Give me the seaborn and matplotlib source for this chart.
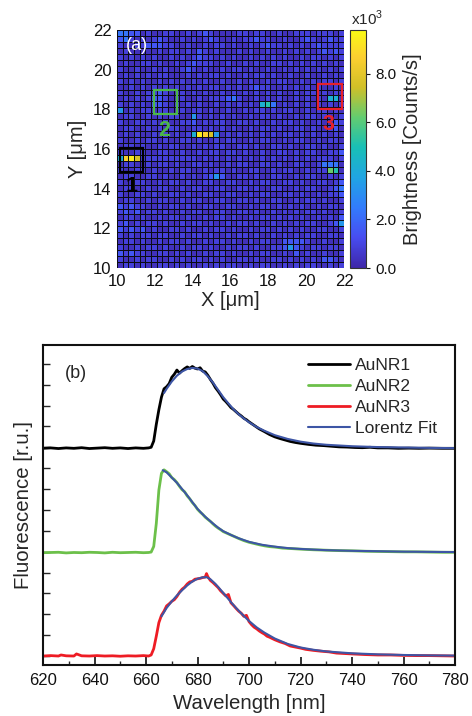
import numpy as np
import pandas as pd
import matplotlib
matplotlib.use("Agg")
import matplotlib.pyplot as plt
import seaborn as sns
from matplotlib.colors import LinearSegmentedColormap
from matplotlib.patches import Rectangle
from matplotlib.ticker import MultipleLocator

# ---------------- data: brightness map (a) ----------------
# 40 x 40 pixels, 0.3 um each, X 10..22 um, Y 22 (top row) .. 10 (bottom row)
MAP_X_RANGE = [10.0, 22.0]
MAP_Y_RANGE = [10.0, 22.0]
# brightness level per character (x10^3 counts/s)
LEVEL_CHARS = ["0", "1", "2", "3", "4", "5", "6", "7", "8", "9", "A"]
LEVEL_VALUES = [0.35, 0.85, 1.5, 2.3, 3.3, 4.2, 5.2, 6.3, 7.6, 8.6, 9.4]
MAP_ROWS = [
    "3322010011" "0010121000" "0110110010" "0111011101",
    "2310101210" "0101012100" "1011211001" "0012101211",
    "1001122211" "0010010110" "1001012110" "1010121111",
    "0100000101" "1010210100" "0101001001" "0101012121",
    "1010101001" "0101211010" "1001010101" "0010110101",
    "0100110100" "1012111001" "0010100110" "1010101010",
    "1001001010" "0121010010" "1101001001" "0101010101",
    "0101010110" "0010101101" "0010110100" "1001001010",
    "1010100101" "0101010010" "0101001011" "0010101101",
    "0010101010" "1010101101" "0101211001" "0101010010",
    "1001011210" "0101010010" "1010101010" "0101101010",
    "0101012210" "0100101112" "3100101010" "0101010550",
    "1010102210" "1010100101" "0101056301" "0101010101",
    "4010110110" "0101101001" "0010110101" "1001011010",
    "0110010101" "1004101010" "1001011010" "0101101001",
    "1001101010" "0112010110" "0110100101" "1010010021",
    "0110010101" "1001101010" "1001011010" "0110100120",
    "0101001010" "1015A98401" "0101010101" "1010101010",
    "1001011010" "0110100101" "1001011001" "0110010110",
    "0110100101" "1001010110" "0110100110" "1001101001",
    "1001100110" "0100101101" "1010010011" "0101100112",
    "59A8111111" "1111010101" "0101010101" "0101011101",
    "0110010110" "1001101001" "0110011010" "0110013330",
    "1001101001" "0110010110" "1001100101" "1001011760",
    "0110011010" "0101012420" "0110100110" "0101100101",
    "1001100101" "1010011001" "1001011001" "1010011012",
    "0110010110" "0101100110" "0110100110" "0101100123",
    "1001101001" "1010011001" "1001011001" "1010010112",
    "0110010110" "0101100110" "0110100110" "0101101001",
    "2121100101" "1010011001" "1001011010" "1010010110",
    "1212011010" "0101100110" "0110100101" "0101101001",
    "0110100101" "1010010110" "1001011010" "1010010102",
    "1201011010" "0101101001" "0110100101" "0101100124",
    "2121201001" "1010010110" "1001011010" "1010011001",
    "1010110110" "0101101001" "0110100101" "0101100110",
    "0110100101" "1010010110" "1001011002" "2221001001",
    "1001011010" "0101101001" "0110100112" "4210110110",
    "2121100110" "1010010110" "1001011001" "0201001001",
    "1001011001" "0101101010" "0110100110" "1010102210",
    "0110100110" "1010010101" "1001011001" "0101100101",
]
MAP_TICKS = [10, 12, 14, 16, 18, 20, 22]
CBAR_TICKS = [0.0, 2.0, 4.0, 6.0, 8.0]
CBAR_MAX = 9.8
# marked nanorods: label, x0, y0, width, height (um), label position (um)
ROD_LABELS = ["1", "2", "3"]
ROD_BOXES = [(10.18, 14.84, 1.20, 1.22), (11.96, 17.76, 1.21, 1.23), (20.65, 18.03, 1.24, 1.25)]
ROD_LABEL_POS = [(10.76, 14.1), (12.52, 16.95), (21.2, 17.25)]

# ---------------- data: spectra (b) ----------------
OFFSETS = [9.95, 4.95, 0.0]
SPEC_NAMES = ["AuNR1", "AuNR2", "AuNR3"]

R1_NM = [620, 623, 626, 629, 632, 635, 638, 641, 644, 647, 650, 653, 656, 659, 661, 662, 663, 664,
         665, 666, 667, 668, 669, 670, 671, 672, 673, 674, 675, 676, 677, 678, 679, 680, 681, 682,
         683, 684, 685, 686, 687, 688, 689, 690, 691, 692, 693, 694, 695, 696, 697, 698, 699, 700,
         702, 704, 706, 708, 710, 712, 714, 716, 718, 720, 723, 726, 729, 732, 735, 738, 741, 744,
         747, 750, 754, 758, 762, 766, 770, 775, 780]
R1_VAL = [0.0, 0.02, -0.01, 0.02, 0.0, 0.03, -0.01, 0.01, 0.03, 0.0, 0.02, -0.01, 0.02, 0.0, 0.02,
          0.05, 0.35, 1.15, 1.85, 2.45, 2.85, 2.95, 3.1, 3.4, 3.55, 3.75, 3.6, 3.72, 3.82, 3.9, 3.83,
          3.92, 3.84, 3.8, 3.86, 3.7, 3.66, 3.5, 3.3, 3.12, 2.9, 2.74, 2.56, 2.36, 2.24, 2.1, 1.95,
          1.86, 1.75, 1.64, 1.55, 1.44, 1.37, 1.27, 1.1, 0.93, 0.8, 0.66, 0.55, 0.47, 0.4, 0.33,
          0.28, 0.24, 0.19, 0.15, 0.13, 0.1, 0.07, 0.06, 0.04, 0.03, 0.05, 0.02, 0.02, 0.0, 0.01,
          0.0, 0.01, 0.0, 0.0]
R2_NM = [620, 623, 626, 629, 632, 635, 638, 641, 644, 647, 650, 653, 656, 659, 661, 662, 663, 664,
         665, 666, 667, 668, 669, 670, 671, 672, 673, 674, 675, 676, 677, 678, 679, 680, 681, 682,
         683, 684, 685, 686, 687, 688, 689, 690, 692, 694, 696, 698, 700, 702, 704, 706, 708, 710,
         713, 716, 720, 725, 730, 735, 740, 745, 750, 755, 760, 765, 770, 775, 780]
R2_VAL = [0.0, 0.01, 0.02, -0.01, 0.01, 0.0, 0.02, 0.01, -0.01, 0.02, 0.0, 0.01, 0.02, 0.0, 0.01,
          0.03, 0.3, 1.4, 3.0, 3.8, 3.97, 3.88, 3.78, 3.6, 3.5, 3.36, 3.18, 3.02, 2.92, 2.72, 2.58,
          2.4, 2.26, 2.08, 1.95, 1.84, 1.7, 1.6, 1.5, 1.38, 1.27, 1.18, 1.1, 1.01, 0.9, 0.79,
          0.68, 0.58, 0.5, 0.44, 0.38, 0.33, 0.29, 0.27, 0.22, 0.2, 0.17, 0.14, 0.12, 0.1, 0.09,
          0.07, 0.06, 0.05, 0.04, 0.04, 0.03, 0.02, 0.02]
R3_NM = [620, 623, 626, 627, 629, 632, 633, 635, 638, 641, 644, 647, 650, 653, 656, 659, 661, 662,
         663, 664, 665, 666, 667, 668, 669, 670, 671, 672, 673, 674, 675, 676, 677, 678, 679, 680,
         681, 682, 683, 683.5, 684, 685, 686, 687, 688, 689, 690, 691, 692, 693, 694, 695, 696,
         697, 698, 699, 700, 701, 702, 703, 704, 705, 706, 707, 708, 710, 712, 714, 716, 718, 720,
         722, 725, 728, 731, 734, 737, 740, 745, 750, 755, 760, 765, 770, 775, 780]
R3_VAL = [0.0, 0.02, 0.0, 0.05, 0.01, 0.0, 0.1, 0.01, 0.0, 0.02, 0.0, 0.01, -0.01, 0.01, 0.0, 0.02,
          0.0, 0.05, 0.35, 0.95, 1.6, 1.95, 2.15, 2.4, 2.5, 2.62, 2.7, 2.85, 3.05, 3.2, 3.3, 3.45,
          3.55, 3.58, 3.68, 3.7, 3.72, 3.76, 3.78, 3.95, 3.8, 3.62, 3.52, 3.4, 3.28, 3.12, 3.0, 2.88,
          2.95, 2.55, 2.42, 2.28, 2.15, 2.05, 1.9, 1.95, 1.65, 1.5, 1.38, 1.3, 1.2, 1.12, 1.05,
          0.95, 0.9, 0.78, 0.68, 0.6, 0.48, 0.43, 0.38, 0.32, 0.27, 0.23, 0.2, 0.14, 0.12, 0.1,
          0.07, 0.05, 0.05, 0.03, 0.02, 0.02, 0.01, 0.0]

F1_NM = [667, 668, 670, 672, 674, 676, 678, 680, 682, 684, 686, 688, 690, 692, 694, 696, 698, 700,
         703, 706, 710, 715, 720, 725, 730, 740, 750, 760, 770, 780]
F1_VAL = [2.65, 2.85, 3.2, 3.48, 3.68, 3.8, 3.85, 3.82, 3.7, 3.45, 3.15, 2.8, 2.45, 2.15, 1.87,
          1.63, 1.43, 1.25, 1.02, 0.84, 0.63, 0.45, 0.32, 0.23, 0.17, 0.1, 0.06, 0.04, 0.02, 0.01]
F2_NM = [666.5, 668, 670, 672, 674, 676, 678, 680, 682, 684, 686, 688, 690, 693, 696, 700, 705,
         710, 715, 720, 730, 740, 750, 760, 770, 780]
F2_VAL = [3.95, 3.85, 3.6, 3.35, 3.05, 2.75, 2.42, 2.1, 1.84, 1.61, 1.4, 1.2, 1.03, 0.85, 0.69,
          0.52, 0.38, 0.29, 0.22, 0.18, 0.12, 0.09, 0.07, 0.05, 0.04, 0.03]
F3_NM = [666, 668, 670, 672, 674, 676, 678, 680, 682, 683.5, 685, 687, 689, 691, 693, 695, 697,
         700, 703, 706, 710, 715, 720, 725, 730, 740, 750, 760, 770, 780]
F3_VAL = [1.9, 2.3, 2.62, 2.9, 3.15, 3.38, 3.57, 3.7, 3.77, 3.78, 3.68, 3.45, 3.17, 2.88, 2.58,
          2.3, 2.04, 1.68, 1.37, 1.12, 0.84, 0.58, 0.41, 0.3, 0.22, 0.13, 0.08, 0.05, 0.03, 0.02]

WL_TICKS = list(range(620, 781, 20))
FLUO_TICKS = list(range(0, 15))

# ---------------- style ----------------
sns.set_theme(style="ticks")
plt.rcParams["font.family"] = ["Liberation Sans", "DejaVu Sans"]
plt.rcParams["mathtext.fontset"] = "custom"
plt.rcParams["mathtext.rm"] = "Liberation Sans"

PARULA = LinearSegmentedColormap.from_list("parula", [
    (0.0, (0.2422, 0.1504, 0.6603)),
    (0.127, (0.2813, 0.3006, 0.9414)),
    (0.254, (0.1963, 0.4847, 0.9892)),
    (0.381, (0.1248, 0.6459, 0.8883)),
    (0.508, (0.0964, 0.7500, 0.7120)),
    (0.635, (0.3909, 0.8029, 0.4354)),
    (0.762, (0.8203, 0.7498, 0.1535)),
    (0.889, (0.9892, 0.8136, 0.1885)),
    (1.0, (0.9769, 0.9839, 0.0805)),
])

fig = plt.figure(figsize=(4.72, 7.16), dpi=100)
W, H = 472.0, 716.0

# ---------------- panel (a) ----------------
ax_map = fig.add_axes([117 / W, 1 - 268 / H, 227 / W, 238 / H])
cax = fig.add_axes([350 / W, 1 - 268 / H, 16 / W, 238 / H])

level_lookup = dict(zip(LEVEL_CHARS, LEVEL_VALUES))
n_cells = 40
cell = (MAP_X_RANGE[1] - MAP_X_RANGE[0]) / n_cells
matrix = [[level_lookup[c] for c in (row + "0" * n_cells)[:n_cells]] for row in MAP_ROWS]
x_centers = [round(MAP_X_RANGE[0] + cell * (i + 0.5), 2) for i in range(n_cells)]
y_centers = [round(MAP_Y_RANGE[1] - cell * (j + 0.5), 2) for j in range(len(MAP_ROWS))]
df_map = pd.DataFrame(matrix, index=y_centers, columns=x_centers)

sns.heatmap(df_map, ax=ax_map, cbar_ax=cax, cmap=PARULA, vmin=0, vmax=CBAR_MAX,
            linewidths=0.45, linecolor="#0c0c16", xticklabels=False, yticklabels=False,
            cbar_kws={"ticks": CBAR_TICKS})


def to_ix(x):
    return (x - MAP_X_RANGE[0]) / cell


def to_iy(y):
    return (MAP_Y_RANGE[1] - y) / cell


ax_map.set_xlim(0, n_cells)
ax_map.set_ylim(n_cells, 0)
ax_map.set_xticks([to_ix(v) for v in MAP_TICKS])
ax_map.set_xticklabels([str(v) for v in MAP_TICKS], rotation=0)
ax_map.set_yticks([to_iy(v) for v in MAP_TICKS])
ax_map.set_yticklabels([str(v) for v in MAP_TICKS], rotation=0)
ax_map.tick_params(axis="both", length=0, pad=4, labelsize=12, colors="#111111")
ax_map.set_xlabel("X [μm]", fontsize=14.5, labelpad=2)
ax_map.set_ylabel("Y [μm]", fontsize=14.5, labelpad=4)
ax_map.text(to_ix(10.45), to_iy(21.2), "(a)", color="white", fontsize=13,
            ha="left", va="center")

rod_colors = ["#000000", "#4db848", "#e8202a"]
for lab, (x0, y0, w, h), (lx, ly), col in zip(ROD_LABELS, ROD_BOXES, ROD_LABEL_POS, rod_colors):
    ax_map.add_patch(Rectangle((to_ix(x0), to_iy(y0 + h)), w / cell, h / cell,
                               fill=False, edgecolor=col, linewidth=1.6))
    ax_map.text(to_ix(lx), to_iy(ly), lab, color=col, fontsize=15.5, fontweight="bold",
                ha="center", va="center")

cbar = ax_map.collections[0].colorbar
cbar.outline.set_edgecolor("#333333")
cbar.outline.set_linewidth(0.8)
cax.set_yticklabels([f"{v:.1f}" for v in CBAR_TICKS])
cax.tick_params(labelsize=11, length=3, width=0.8, colors="#111111")
cbar.set_label("Brightness [Counts/s]", fontsize=14.5, labelpad=5)
fig.text(351 / W, 1 - 28 / H, "x10$^3$", fontsize=11, ha="left", va="bottom")

# ---------------- panel (b) ----------------
ax = fig.add_axes([43 / W, 1 - 665 / H, 412 / W, 320 / H])

data_sets = [(R1_NM, R1_VAL), (R2_NM, R2_VAL), (R3_NM, R3_VAL)]
fit_sets = [(F1_NM, F1_VAL), (F2_NM, F2_VAL), (F3_NM, F3_VAL)]
data_colors = ["#000000", "#6cc04a", "#ee1c24"]
fit_color = "#3d55a5"

for name, (nm, val), off, col in zip(SPEC_NAMES, data_sets, OFFSETS, data_colors):
    d = pd.DataFrame({"wl": nm, "I": np.array(val) + off})
    sns.lineplot(data=d, x="wl", y="I", ax=ax, color=col, lw=2.0, label=name,
                 sort=False, estimator=None)
for k, ((nm, val), off) in enumerate(zip(fit_sets, OFFSETS)):
    d = pd.DataFrame({"wl": nm, "I": np.array(val) + off})
    sns.lineplot(data=d, x="wl", y="I", ax=ax, color=fit_color, lw=1.5,
                 label="Lorentz Fit" if k == 0 else "_nolegend_", sort=False, estimator=None)

ax.set_xlim(620, 780)
ax.set_ylim(-0.43, 14.9)
ax.set_xticks(WL_TICKS)
ax.xaxis.set_minor_locator(MultipleLocator(10))
ax.set_yticks(FLUO_TICKS)
ax.set_yticklabels([])
ax.tick_params(axis="x", which="major", direction="in", length=6, width=1.2, labelsize=12,
               pad=6, colors="#111111")
ax.tick_params(axis="x", which="minor", direction="in", length=3, width=1.0)
ax.tick_params(axis="y", which="major", direction="in", length=5, width=1.0)
for s in ax.spines.values():
    s.set_linewidth(1.5)
    s.set_color("#111111")
ax.set_xlabel("Wavelength [nm]", fontsize=14.7, labelpad=4)
ax.set_ylabel("Fluorescence [r.u.]", fontsize=14.7, labelpad=4)
ax.text(0.08, 0.9125, "(b)", transform=ax.transAxes, fontsize=13, ha="center", va="center")

handles, labels = ax.get_legend_handles_labels()
leg = ax.legend(handles, labels, loc="upper left", bbox_to_anchor=((308 - 43) / 412, 0.959),
                frameon=False, fontsize=12.5, handlelength=2.4, handletextpad=0.3,
                labelspacing=0.33, borderaxespad=0, borderpad=0)

fig.savefig("out.png", dpi=100)
